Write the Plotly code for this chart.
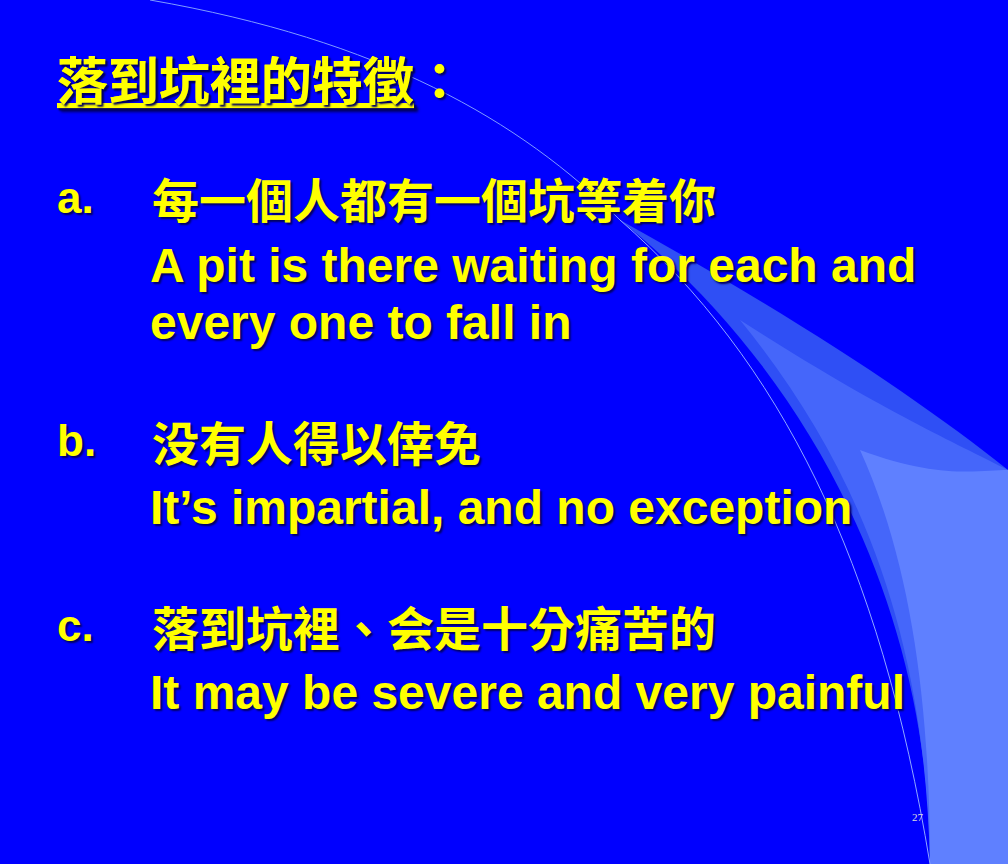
import plotly.graph_objects as go

title = "<u>落到坑裡的特徵</u>："
labels = ["a.", "b.", "c."]
label_y = [197, 440, 625]
zh_lines = ["每一個人都有一個坑等着你", "没有人得以倖免", "落到坑裡、会是十分痛苦的"]
en_lines = [["A pit is there waiting for each and", "every one to fall in"],
            ["It’s impartial, and no exception"],
            ["It may be severe and very painful"]]
en_y = [[265, 322], [507], [692]]
page_no = "27"

YEL = "#FFFF00"
SH = "2px 2px 2px #000060"
fig = go.Figure()

# decorative swoosh shapes
shapes = [
    dict(type="path", path="M 620 220 C 800 320, 920 400, 1008 470 L 1008 864 L 930 864 C 930 620, 820 380, 620 220 Z",
         fillcolor="#2f4ff5", line=dict(width=0), layer="below"),
    dict(type="path", path="M 740 320 C 880 410, 950 440, 1008 470 L 1008 864 L 930 864 C 925 650, 870 480, 740 320 Z",
         fillcolor="#4566fa", line=dict(width=0), layer="below"),
    dict(type="path", path="M 860 450 C 940 480, 980 470, 1008 470 L 1008 864 L 930 864 C 930 700, 910 560, 860 450 Z",
         fillcolor="#5f80ff", line=dict(width=0), layer="below"),
    dict(type="path", path="M 150 0 C 380 40, 520 120, 620 220", line=dict(color="#7f9cff", width=1), layer="below"),
    dict(type="path", path="M 620 220 C 780 360, 880 560, 930 864", line=dict(color="#8fa8ff", width=1), layer="below"),
]

ann = [dict(x=55, y=78, text=title, font=dict(size=51, color=YEL, family="Noto Sans CJK TC", weight="bold", shadow=SH))]
for lab, ly, zh, ens, eys in zip(labels, label_y, zh_lines, en_lines, en_y):
    ann.append(dict(x=55, y=ly, text=lab, font=dict(size=44, color=YEL, family="Liberation Sans", weight="bold", shadow=SH)))
    ann.append(dict(x=150, y=ly, text=zh, font=dict(size=47, color=YEL, family="Noto Sans CJK TC", weight="bold", shadow=SH)))
    for t, yy in zip(ens, eys):
        ann.append(dict(x=148, y=yy, text=t, font=dict(size=48, color=YEL, family="Liberation Sans", weight="bold", shadow=SH)))
ann.append(dict(x=910, y=817, text=page_no, font=dict(size=11, color="#dddddd", family="Liberation Serif")))
for a in ann:
    a.update(xref="x", yref="y", xanchor="left", yanchor="middle", showarrow=False)

fig.update_layout(
    width=1008, height=864, margin=dict(l=0, r=0, t=0, b=0),
    paper_bgcolor="#0000ff", plot_bgcolor="#0000ff",
    xaxis=dict(range=[0, 1008], visible=False, fixedrange=True),
    yaxis=dict(range=[864, 0], visible=False, fixedrange=True),
    shapes=shapes, annotations=ann, showlegend=False,
)
fig.write_html("out.html", config={"displayModeBar": False},
               post_script="document.body.style.margin='0';document.body.style.background='#0000ff';")
